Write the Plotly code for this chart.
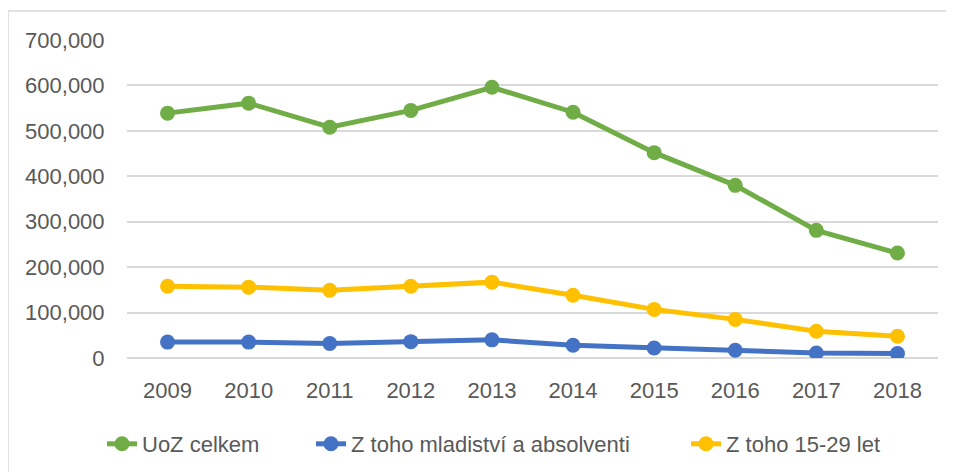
import plotly.graph_objects as go

years = ["2009", "2010", "2011", "2012", "2013", "2014", "2015", "2016", "2017", "2018"]
uoz_celkem = [539000, 561000, 508000, 545000, 596000, 541000, 452000, 380000, 281000, 231000]
mladistvi_absolventi = [35000, 35000, 32000, 36000, 40000, 28000, 22000, 17000, 11000, 10000]
vek_15_29 = [158000, 156000, 149000, 158000, 167000, 138000, 107000, 85000, 59000, 48000]

series = [
    ("UoZ celkem", uoz_celkem, "#70AD47"),
    ("Z toho mladiství a absolventi", mladistvi_absolventi, "#4472C4"),
    ("Z toho 15-29 let", vek_15_29, "#FFC000"),
]

# the page body keeps its 8px margin, so the figure is drawn 8px smaller
W, H = 946, 464
L, R, T, B = 119, 16, 32, 114
pw, ph = W - L - R, H - T - B

font = dict(family="Liberation Sans, Arial, sans-serif", size=22, color="#595959")

fig = go.Figure()
legend_names = ["legend", "legend2", "legend3"]
legend_x = [102, 311, 686]  # left end of each legend entry (px in the window)
for (name, vals, col), lg in zip(series, legend_names):
    fig.add_trace(go.Scatter(
        x=years, y=vals, name=name, mode="lines+markers",
        line=dict(color=col, width=5),
        marker=dict(color=col, size=15),
        legend=lg,
    ))

# light frame of the chart area, open to the right and bottom like the source
fig.add_shape(type="rect", xref="paper", yref="paper",
              x0=(0 - L) / pw, x1=(W + 10 - L) / pw,
              y0=-(H + 10 - T - ph) / ph, y1=(T + ph - 3) / ph,
              line=dict(color="#D9D9D9", width=1.5), fillcolor="rgba(0,0,0,0)")

legends = {}
for lg, lx in zip(legend_names, legend_x):
    legends[lg] = dict(orientation="h", xref="container", yref="container",
                       x=(lx - 8) / W, xanchor="left", y=1 - 436 / H, yanchor="middle",
                       font=font, bgcolor="rgba(0,0,0,0)")

fig.update_layout(
    width=W, height=H,
    paper_bgcolor="white", plot_bgcolor="white",
    font=font,
    margin=dict(l=L, r=R, t=T, b=B),
    xaxis=dict(type="category", range=[-0.5, 9.5], showgrid=False,
               showline=False, zeroline=False,
               ticks="outside", ticklen=13, tickcolor="rgba(0,0,0,0)",
               tickfont=font),
    yaxis=dict(range=[0, 700000], dtick=100000, tickformat=",",
               showgrid=True, gridcolor="#D9D9D9", gridwidth=1.5,
               zeroline=True, zerolinecolor="#D9D9D9", zerolinewidth=1.5,
               showline=False,
               ticks="outside", ticklen=17, tickcolor="rgba(0,0,0,0)",
               tickfont=font),
    showlegend=True,
    **legends,
)

fig.write_html("out.html")
